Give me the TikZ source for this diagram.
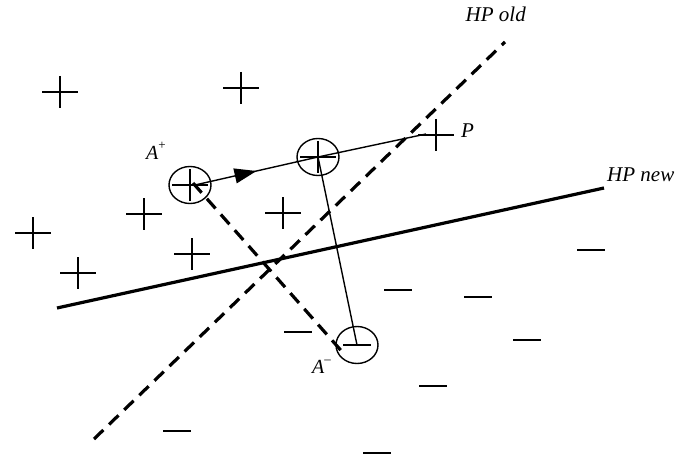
\documentclass[tikz,border=0pt]{standalone}
\usepackage{fontspec}
\setmainfont{Liberation Serif}
\usetikzlibrary{arrows.meta,decorations.markings,shapes.geometric}
\tikzset{
  plusline/.style={line width=1.4pt},
  minusline/.style={line width=2.3pt},
  pics/plusmk/.style={code={\draw[plusline] (-18,0) -- (18,0) (0,-16) -- (0,16);}},
  pics/minusmk/.style={code={\draw[minusline] (-14,0) -- (14,0);}},
  ring/.style={draw, ellipse, line width=1.4pt, minimum width=42pt, minimum height=37pt, inner sep=0pt},
  hpline/.style={line width=3.2pt},
  hpdash/.style={line width=3.2pt, dash pattern=on 13pt off 8pt},
  thin/.style={line width=1.4pt},
  lbl/.style={font=\fontsize{21}{24}\selectfont\itshape, inner sep=0pt},
  albl/.style={font=\fontsize{20}{24}\selectfont\itshape, inner sep=0pt}
}
\newcommand{\supmk}[1]{\raisebox{0.5em}{\fontsize{13}{14}\selectfont\upshape #1}}
\begin{document}
\begin{tikzpicture}[x=1pt,y=-1pt]
\useasboundingbox (0,0) rectangle (684,457);
% hyperplanes
\coordinate (hoA) at (94,439);
\coordinate (hoB) at (505,42);
\coordinate (hnA) at (57,308);
\coordinate (hnB) at (604,188);
\draw[hpdash] (hoA) -- (hoB);
\draw[hpline] (hnA) -- (hnB);
\node[lbl, anchor=base east] (lold) at (526,22) {HP old};
\node[lbl, anchor=base west] (lnew) at (607,181) {HP new};
% plus points
\foreach \x/\y in {60/92, 241/88, 144/214, 33/233, 78/273, 192/254, 283/213}
  \pic at (\x,\y) {plusmk};
\pic at (436,135) {plusmk};
\node[lbl, anchor=base west] (lP) at (461,138) {P};
% minus points
\foreach \x/\y in {591/250, 398/290, 478/297, 527/340, 433/386, 377/453, 298/332, 177/431}
  \pic at (\x,\y) {minusmk};
% circled points
\node[ring] (Ap) at (190,185) {};
\node[ring] (M) at (318,157) {};
\node[ring] (Am) at (357,345) {};
\pic at (Ap.center) {plusmk};
\pic at (M.center) {plusmk};
\draw[minusline] ([xshift=-14pt]Am.center) -- ([xshift=14pt]Am.center);
\node[albl, anchor=base west] (lAp) at (146,160) {A\supmk{+}};
\node[albl, anchor=base west] (lAm) at (312,373) {A\supmk{--}};
% connectors
\coordinate (Pend) at (426,134);
\draw[thin, decoration={markings, mark=at position 0.5 with {\arrow{Triangle[length=22pt,width=15pt]}}}, postaction={decorate}] ([xshift=5pt]Ap.center) -- (M.center);
\draw[thin] (M.center) -- (Pend);
\draw[thin] (M.center) -- (Am.center);
\draw[hpdash] ([xshift=3pt,yshift=2pt]Ap.center) -- ([xshift=-12pt,yshift=-10pt]Am.center);
\end{tikzpicture}
\end{document}
